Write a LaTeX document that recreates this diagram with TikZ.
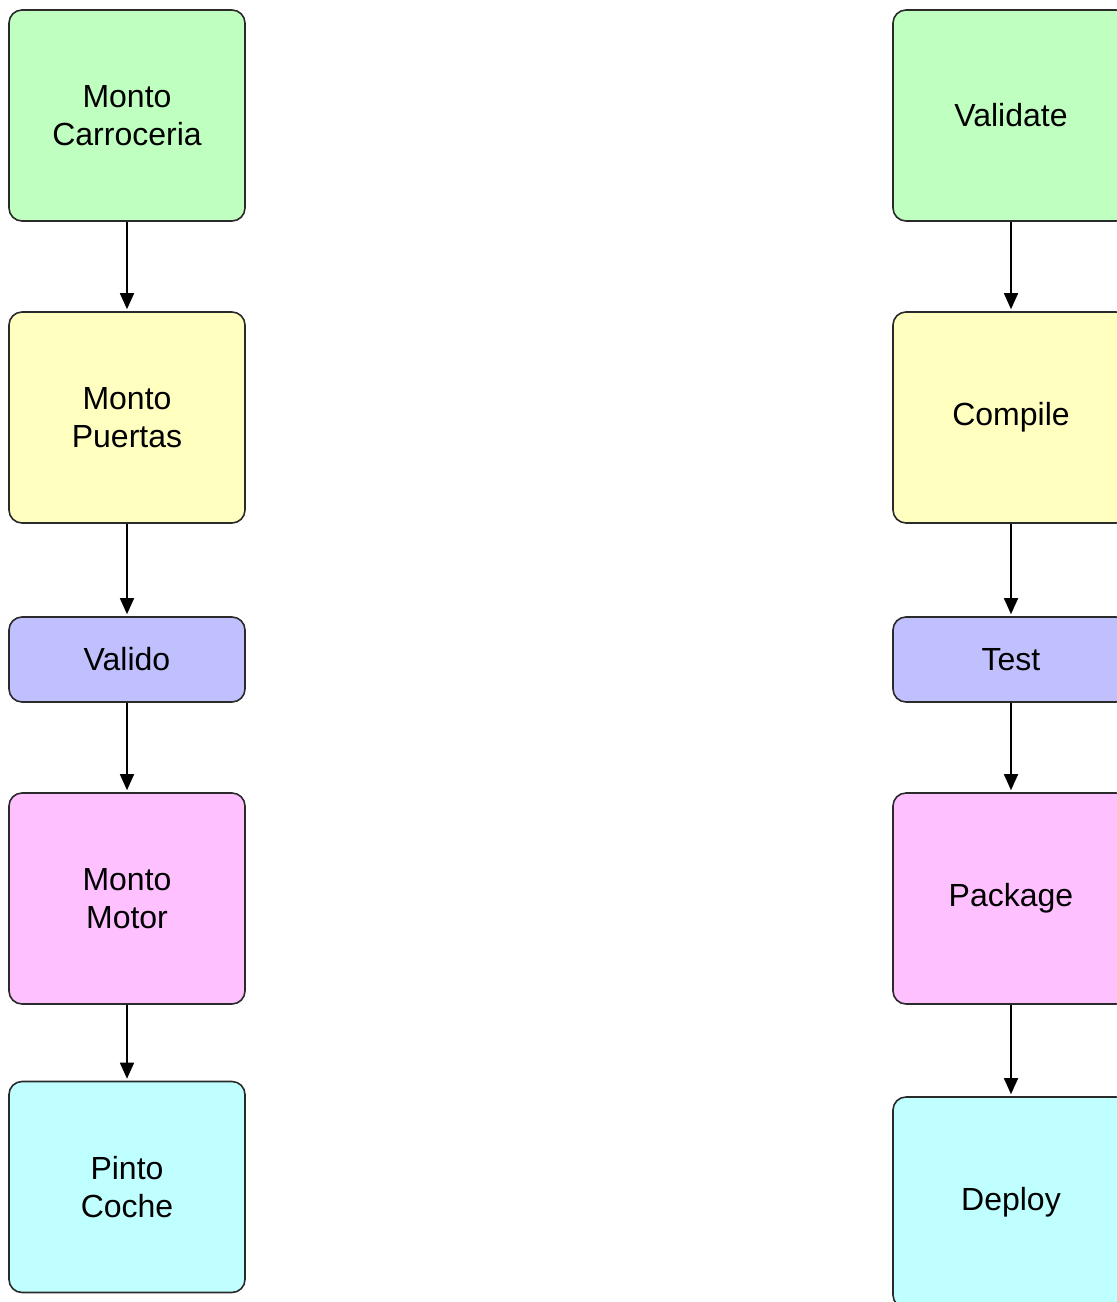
\documentclass[tikz,border=0pt]{standalone}
\usepackage{fontspec}
\setmainfont{Liberation Sans}
\usetikzlibrary{arrows.meta}
\definecolor{cgreen}{HTML}{BFFFBF}
\definecolor{cyellow}{HTML}{FFFFC0}
\definecolor{cblue}{HTML}{C0C0FF}
\definecolor{cpink}{HTML}{FFC0FF}
\definecolor{ccyan}{HTML}{C0FFFF}
\definecolor{cstroke}{HTML}{2A2A2A}
\tikzset{
  box/.style={draw=cstroke, line width=1.6pt, rounded corners=13pt, minimum width=236pt, inner sep=0pt, align=center, font=\fontsize{32}{38}\selectfont},
  tall/.style={box, minimum height=211pt},
  short/.style={box, minimum height=85pt},
  conn/.style={draw=black, line width=1.6pt, -{Triangle[length=16pt,width=14pt]}, shorten >=2pt}
}
\begin{document}
\begin{tikzpicture}[x=1pt,y=-1pt]
\useasboundingbox (0,0) rectangle (1117,1302);
% left column
\node[tall, fill=cgreen] (a1) at (127,115.5) {Monto\\Carroceria};
\node[tall, fill=cyellow] (a2) at (127,417.5) {Monto\\Puertas};
\node[short, fill=cblue] (a3) at (127,659.5) {Valido};
\node[tall, fill=cpink] (a4) at (127,898.5) {Monto\\Motor};
\node[tall, fill=ccyan] (a5) at (127,1187) {Pinto\\Coche};
% right column
\node[tall, fill=cgreen] (b1) at (1011,115.5) {Validate};
\node[tall, fill=cyellow] (b2) at (1011,417.5) {Compile};
\node[short, fill=cblue] (b3) at (1011,659.5) {Test};
\node[tall, fill=cpink] (b4) at (1011,898.5) {Package};
\node[tall, fill=ccyan] (b5) at (1011,1202.5) {Deploy};
% connectors
\draw[conn] (a1) -- (a2);
\draw[conn] (a2) -- (a3);
\draw[conn] (a3) -- (a4);
\draw[conn] (a4) -- (a5);
\draw[conn] (b1) -- (b2);
\draw[conn] (b2) -- (b3);
\draw[conn] (b3) -- (b4);
\draw[conn] (b4) -- (b5);
\end{tikzpicture}
\end{document}
